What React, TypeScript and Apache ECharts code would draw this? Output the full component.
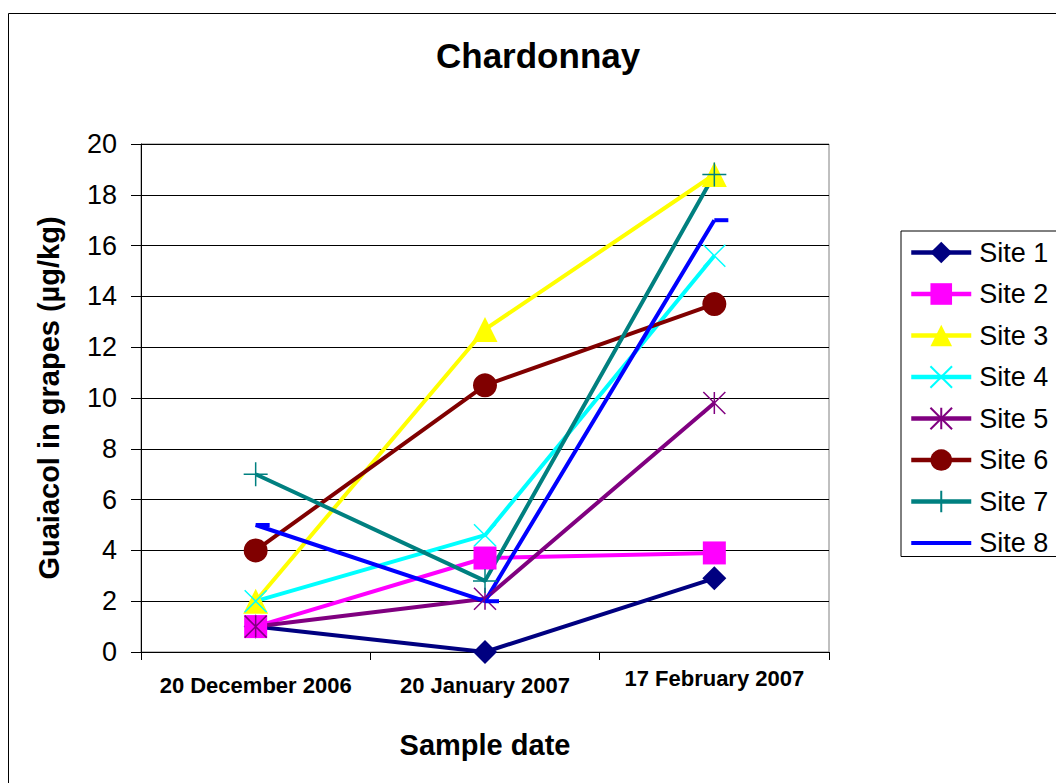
import { useEffect, useRef } from "react";
import * as echarts from "echarts";

const categories = ["20 December 2006", "20 January 2007", "17 February 2007"];
const site1 = [1.0, 0.0, 2.9];
const site2 = [1.0, 3.7, 3.9];
const site3 = [2.0, 12.7, 18.8];
const site4 = [2.0, 4.6, 15.6];
const site5 = [1.0, 2.1, 9.8];
const site6 = [4.0, 10.5, 13.7];
const site7 = [7.0, 2.8, 18.8];
const site8 = [5.0, 2.0, 17.0];
const seriesNames = ["Site 1", "Site 2", "Site 3", "Site 4", "Site 5", "Site 6", "Site 7", "Site 8"];
const seriesValues = [site1, site2, site3, site4, site5, site6, site7, site8];
const seriesColors = ["#000080", "#FF00FF", "#FFFF00", "#00FFFF", "#800080", "#800000", "#008080", "#0000FF"];
const yMin = 0;
const yMax = 20;
const yInterval = 2;

const FONT = "'Liberation Sans', Arial, Helvetica, sans-serif";

const SYM_X = "path://M0,0L20,20M0,20L20,0";
const SYM_PLUS = "path://M10,0L10,20M0,10L20,10";
const SYM_STAR = "path://M0,0L20,20M0,20L20,0M10,0L10,20";

type MarkerDef = { symbol: string; size: number | number[]; stroke?: boolean; offset?: number[] };
const markers: MarkerDef[] = [
  { symbol: "diamond", size: 24 },
  { symbol: "rect", size: 23 },
  { symbol: "triangle", size: 25 },
  { symbol: SYM_X, size: 22, stroke: true },
  { symbol: SYM_STAR, size: 22, stroke: true },
  { symbol: "circle", size: 24 },
  { symbol: SYM_PLUS, size: 24, stroke: true },
  { symbol: "rect", size: [14, 4], offset: [7, 0] },
];

export default function App() {
  const ref = useRef<HTMLDivElement>(null);

  useEffect(() => {
    if (!ref.current) return;
    const chart = echarts.init(ref.current, undefined, { renderer: "svg" });

    const series = seriesNames.map((name, i) => {
      const m = markers[i];
      const color = seriesColors[i];
      return {
        name,
        type: "line",
        data: seriesValues[i],
        symbol: m.symbol,
        symbolSize: m.size,
        symbolOffset: m.offset || [0, 0],
        symbolKeepAspect: false,
        showAllSymbol: true,
        lineStyle: { color, width: 4 },
        itemStyle: m.stroke
          ? { color, borderColor: color, borderWidth: 1.5 }
          : { color, borderColor: color, borderWidth: 0 },
        emphasis: { disabled: true },
      };
    });

    const legendData = seriesNames.map((name, i) =>
      i === 7 ? { name, icon: "path://M0,0H60V4H0Z" } : { name }
    );

    chart.setOption({
      animation: false,
      backgroundColor: "#ffffff",
      title: {
        text: "Chardonnay",
        left: 436,
        top: 38,
        padding: 0,
        textStyle: { fontFamily: FONT, fontSize: 35, fontWeight: "bold", color: "#000" },
      },
      legend: {
        orient: "vertical",
        left: 901,
        top: 231,
        padding: [8, 20, 0, 8],
        itemWidth: 60,
        itemHeight: 27,
        itemGap: 14.5,
        borderColor: "#000",
        borderWidth: 1,
        lineStyle: { width: 4.5 },
        data: legendData,
        textStyle: { fontFamily: FONT, fontSize: 27, color: "#000", lineHeight: 27, padding: [0, 0, 0, 3] },
      },
      grid: {
        left: 141,
        top: 144,
        right: 227,
        bottom: 131,
        show: true,
        borderColor: "#808080",
        borderWidth: 1,
        containLabel: false,
      },
      xAxis: {
        type: "category",
        data: categories,
        boundaryGap: true,
        name: "Sample date",
        nameLocation: "middle",
        nameGap: 78,
        nameTextStyle: { fontFamily: FONT, fontSize: 29, fontWeight: "bold", color: "#000" },
        axisLine: { lineStyle: { color: "#000", width: 1 } },
        axisTick: { show: true, length: 8, lineStyle: { color: "#000" } },
        axisLabel: {
          margin: 22,
          interval: 0,
          fontFamily: FONT,
          fontSize: 22,
          fontWeight: "bold",
          color: "#000",
          formatter: (v: string, idx: number) => (idx === 2 ? `{up|${v}}` : v),
          rich: {
            up: { fontFamily: FONT, fontSize: 22, fontWeight: "bold", color: "#000", lineHeight: 8 },
          },
        },
        splitLine: { show: false },
      },
      yAxis: {
        type: "value",
        min: yMin,
        max: yMax,
        interval: yInterval,
        name: "Guaiacol in grapes (µg/kg)",
        nameLocation: "middle",
        nameRotate: 90,
        nameGap: 78,
        nameTextStyle: { fontFamily: FONT, fontSize: 29, fontWeight: "bold", color: "#000" },
        axisLine: { show: true, lineStyle: { color: "#000", width: 1 } },
        axisTick: { show: true, length: 10, lineStyle: { color: "#000" } },
        axisLabel: { margin: 24, fontFamily: FONT, fontSize: 27, color: "#000" },
        splitLine: { show: true, lineStyle: { color: "#000", width: 1 } },
      },
      graphic: [
        {
          type: "rect",
          silent: true,
          z: -10,
          shape: { x: 8.5, y: 13.5, width: 1100, height: 1000 },
          style: { fill: "none", stroke: "#000", lineWidth: 1 },
        },
      ],
      series,
    });

    return () => chart.dispose();
  }, []);

  return (
    <div
      ref={ref}
      style={{ position: "absolute", left: 0, top: 0, width: 1056, height: 783 }}
    />
  );
}
